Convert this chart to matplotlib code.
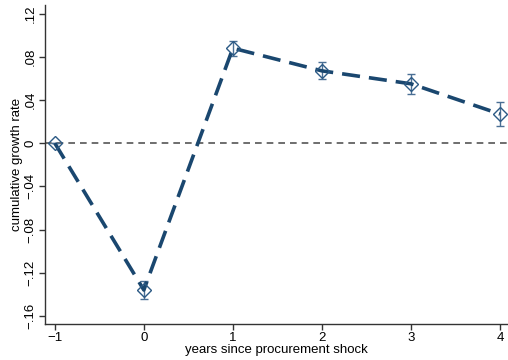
import matplotlib
matplotlib.use("Agg")
import matplotlib.pyplot as plt

plt.rcParams['font.family'] = ['Liberation Sans', 'DejaVu Sans']

years = [-1, 0, 1, 2, 3, 4]
growth = [0.0, -0.136, 0.088, 0.067, 0.055, 0.027]
err = [0.0, 0.008, 0.007, 0.008, 0.009, 0.011]
yticks = [-0.16, -0.12, -0.08, -0.04, 0, 0.04, 0.08, 0.12]
ytick_labels = ["\u2212.16", "\u2212.12", "\u2212.08", "\u2212.04", "0", ".04", ".08", ".12"]
xticks = [-1, 0, 1, 2, 3, 4]
xtick_labels = ["\u22121", "0", "1", "2", "3", "4"]

fig = plt.figure(figsize=(5.08, 3.6), dpi=100)
ax = fig.add_axes([45/508, 36/360, 463/508, 319/360])
navy = "#1a476f"

ax.axhline(0, color="#555555", lw=1.2, ls=(0, (4, 3)), zorder=1)
ax.errorbar(years, growth, yerr=err, fmt="none", ecolor="#4a6f94", elinewidth=1.0,
            capsize=3, capthick=1.0, zorder=2)
ax.plot(years, growth, color=navy, lw=2.6, ls=(0, (5, 2.5)), zorder=3)
ax.plot(years, growth, ls="none", marker="D", ms=7, mfc="none", mec="#2c5a85", mew=1.0, zorder=4)

ax.set_xlim(-1.11, 4.09)
ax.set_ylim(-0.1675, 0.128)
ax.set_xticks(xticks)
ax.set_xticklabels(xtick_labels)
ax.set_yticks(yticks)
ax.set_yticklabels(ytick_labels, rotation=90, va="center")
ax.tick_params(labelsize=9.5, length=4, width=1, color="#333333", pad=2)
for s in ["top", "right"]:
    ax.spines[s].set_visible(False)
for s in ["left", "bottom"]:
    ax.spines[s].set_color("#333333")
    ax.spines[s].set_linewidth(1.0)
ax.set_xlabel("years since procurement shock", fontsize=9.5, labelpad=0)
ax.set_ylabel("cumulative growth rate", fontsize=9.5, labelpad=1)

fig.savefig("out.png", dpi=100)
